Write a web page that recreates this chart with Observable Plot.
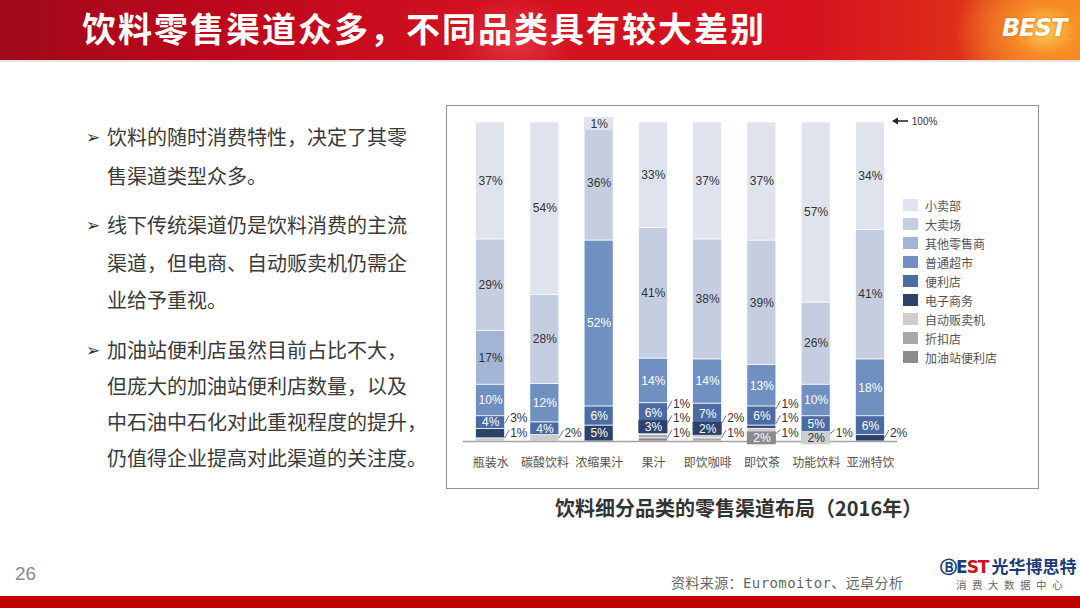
<!DOCTYPE html>
<html><head><meta charset="utf-8">
<script src="https://cdn.jsdelivr.net/npm/d3@7"></script>
<script src="https://cdn.jsdelivr.net/npm/@observablehq/plot@0.6"></script>
<style>
html,body{margin:0;padding:0;width:1080px;height:608px;overflow:hidden;background:#fff;font-family:"Noto Sans CJK SC","Noto Sans",sans-serif;}
#page{position:relative;width:1080px;height:608px;}
#header{position:absolute;left:0;top:0;width:1080px;height:60px;
 background:
  radial-gradient(ellipse 90px 70px at 1045px 30px, rgba(255,214,90,0.95) 0%, rgba(250,150,40,0.8) 35%, rgba(235,70,20,0) 100%),
  radial-gradient(ellipse 60px 45px at 515px 40px, rgba(240,80,90,0.55) 0%, rgba(240,80,90,0) 100%),
  linear-gradient(90deg,#a00a1a 0%,#bd071c 20%,#d21120 45%,#d6121f 75%,#dd2c1a 88%,#ef7a22 100%);}
#hline{position:absolute;left:0;top:60px;width:1080px;height:2px;background:#e9e3e3;}
#title{position:absolute;left:82px;top:10px;line-height:36px;color:#fff;font-size:34px;font-weight:bold;letter-spacing:2px;white-space:nowrap;}
#hlogo{position:absolute;left:1002px;top:14px;color:#fff;font-family:"DejaVu Sans",sans-serif;font-weight:bold;font-style:italic;font-size:24px;letter-spacing:-1px;text-shadow:0 0 3px #e07010;}
.para{position:absolute;left:107px;color:#3a3a3a;font-size:20px;white-space:nowrap;}
.arrow{position:absolute;left:86px;color:#333;font-family:"DejaVu Sans",sans-serif;font-size:17px;line-height:20px;}
#box{position:absolute;left:446px;top:105px;width:593px;height:384px;box-sizing:border-box;border:1.5px solid #929292;}
#chart{position:absolute;left:447px;top:106px;}
#legend{position:absolute;left:903px;top:196px;}
.lrow{position:absolute;left:0;height:19px;width:120px;}
.lsw{position:absolute;left:0;top:3px;width:15px;height:12px;}
.ltx{position:absolute;left:22px;top:0;line-height:19px;font-size:12px;color:#555;white-space:nowrap;}
#hundred{position:absolute;left:891px;top:116px;font-family:"Liberation Sans",Arial,sans-serif;font-size:10px;color:#333;white-space:nowrap;}
#caption{position:absolute;left:555px;top:494px;font-size:20px;font-weight:bold;color:#333;white-space:nowrap;line-height:28px;}
#pagenum{position:absolute;left:15px;top:563px;font-family:"Liberation Sans",Arial,sans-serif;font-size:19px;color:#8a8a8a;}
#source{position:absolute;left:671px;top:572px;font-family:"DejaVu Sans Mono","Noto Sans CJK SC",monospace;font-size:14px;color:#666;letter-spacing:0.4px;white-space:nowrap;}
#blogo{position:absolute;left:940px;top:553px;white-space:nowrap;}
#blogo .b1{font-family:"DejaVu Sans",sans-serif;font-weight:bold;font-size:17px;color:#1d3a78;letter-spacing:-1px;}
#blogo .b2{font-family:"DejaVu Sans",sans-serif;font-weight:bold;font-size:17px;color:#d0101a;letter-spacing:-1px;}
#blogo .b3{font-weight:bold;font-size:17px;color:#1d3a78;margin-left:3px;}
#bsub{position:absolute;left:956px;top:577px;font-size:10.5px;color:#666;letter-spacing:5.5px;white-space:nowrap;}
#footer{position:absolute;left:0;top:596px;width:1080px;height:12px;background:#c10000;}
</style></head>
<body><div id="page">
<div id="header"></div><div id="hline"></div>
<div id="title">饮料零售渠道众多，不同品类具有较大差别</div>
<div id="hlogo">BEST</div>

<div class="arrow" style="top:127px">➢</div>
<div class="para" style="top:117px;line-height:39px">饮料的随时消费特性，决定了其零<br>售渠道类型众多。</div>
<div class="arrow" style="top:215px">➢</div>
<div class="para" style="top:206px;line-height:37.5px">线下传统渠道仍是饮料消费的主流<br>渠道，但电商、自动贩卖机仍需企<br>业给予重视。</div>
<div class="arrow" style="top:340px">➢</div>
<div class="para" style="top:332px;line-height:36px">加油站便利店虽然目前占比不大，<br>但庞大的加油站便利店数量，以及<br>中石油中石化对此重视程度的提升，<br>仍值得企业提高对此渠道的关注度。</div>

<div id="box"></div>
<div id="chart"></div>
<div id="legend"></div>
<div id="hundred"><svg width="18" height="10" style="vertical-align:-1px"><path d="M1,5 L7,1.5 L7,4.2 L17,4.2 L17,5.8 L7,5.8 L7,8.5 Z" fill="#222"/></svg> 100%</div>
<div id="caption">饮料细分品类的零售渠道布局（2016年）</div>

<div id="pagenum">26</div>
<div id="source">资料来源：Euromoitor、远卓分析</div>
<div id="blogo"><span class="b1">Ⓑ</span><span class="b1">E</span><span class="b2">ST</span><span class="b3">光华博思特</span></div>
<div id="bsub">消费大数据中心</div>
<div id="footer"></div>
</div>
<script>
// ---- data ----
const categories = ["瓶装水","碳酸饮料","浓缩果汁","果汁","即饮咖啡","即饮茶","功能饮料","亚洲特饮"];
const seriesNames = ["小卖部","大卖场","其他零售商","普通超市","便利店","电子商务","自动贩卖机","折扣店","加油站便利店"];
const smallShopValues   = [37, 54,  1, 33, 37, 37, 57, 34];
const hypermarketValues = [29, 28, 36, 41, 38, 39, 26, 41];
const otherRetailValues = [17,  0,  0,  0,  0,  0,  0,  0];
const supermarketValues = [10, 12, 52, 14, 14, 13, 10, 18];
const convenienceValues = [ 4,  4,  6,  6,  7,  6,  5,  6];
const ecommerceValues   = [ 3,  0,  5,  3,  2,  1,  1,  2];
const vendingValues     = [ 1,  2,  0,  1,  2,  1,  2,  0];
const discountValues    = [ 0,  0,  0,  1,  1,  1,  0,  0];
const gasStationValues  = [ 0,  0,  0,  1,  0,  2,  0,  0];
const seriesColors = ["#dfe3ed","#c5cee1","#a3b5d4","#7090c2","#4b6ca3","#2c4269","#cecece","#a8a8a8","#8b8b8b"];

// ---- label placement (layout) ----
const outsideLabels = {
  "瓶装水": ["自动贩卖机","电子商务"],
  "碳酸饮料": ["自动贩卖机"],
  "果汁": ["加油站便利店","折扣店","自动贩卖机"],
  "即饮咖啡": ["折扣店","自动贩卖机"],
  "即饮茶": ["折扣店","自动贩卖机","电子商务"],
  "功能饮料": ["电子商务"],
  "亚洲特饮": ["电子商务"]
};
const boxedLabels = {
  "浓缩果汁": ["小卖部"],
  "果汁": ["电子商务"],
  "即饮咖啡": ["电子商务"],
  "即饮茶": ["加油站便利店"],
  "功能饮料": ["自动贩卖机"]
};
const whiteTextSeries = ["普通超市","便利店","电子商务","加油站便利店"];

// ---- build table ----
const valuesBySeries = [smallShopValues, hypermarketValues, otherRetailValues, supermarketValues,
  convenienceValues, ecommerceValues, vendingValues, discountValues, gasStationValues];
const stackOrder = seriesNames.slice().reverse(); // bottom -> top
const segments = [];
categories.forEach((cat, i) => {
  const total = d3.sum(valuesBySeries, v => v[i]);
  let cum = 0, outRank = 0;
  stackOrder.forEach(s => {
    const v = valuesBySeries[seriesNames.indexOf(s)][i];
    if (v > 0) {
      const outside = (outsideLabels[cat] || []).includes(s);
      segments.push({cat, i, series: s, value: v, label: v + "%",
        y1: cum / total, y2: (cum + v) / total, mid: (cum + v / 2) / total,
        outside, outRank: outside ? outRank++ : -1,
        boxed: (boxedLabels[cat] || []).includes(s)});
      cum += v;
    }
  });
});

const W = 590, H = 382, ML = 16, MR = 140, MT = 16, MB = 47;
const STEP = (W - ML - MR) / 8;      // px per category
const PH = H - MT - MB;              // px per 100%
const HW = 14.5 / STEP;
const pxY = p => p / PH;
const pxX = p => p / STEP;

const inside = segments.filter(d => !d.outside);
const outside = segments.filter(d => d.outside).map(d => {
  const labelH = 8.5 + 14.5 * d.outRank;
  return {...d, ly: pxY(labelH),
    ly1: pxY(Math.max(d.mid * PH, labelH - 5)), ly2: pxY(labelH + 3)};
});
const font = "Liberation Sans, Arial, sans-serif";

const plot = Plot.plot({
  width: W, height: H, marginLeft: ML, marginRight: MR, marginTop: MT, marginBottom: MB,
  style: {fontSize: "12px", fontFamily: "Noto Sans CJK SC, sans-serif", color: "#555", background: "transparent"},
  x: {type: "linear", domain: [-0.5, 7.5], ticks: categories.map((_, i) => i),
      tickFormat: i => categories[i], tickSize: 0, tickPadding: 17, label: null},
  y: {domain: [0, 1], axis: null},
  color: {domain: seriesNames, range: seriesColors},
  marks: [
    Plot.rect(segments, {x1: d => d.i - HW, x2: d => d.i + HW, y1: "y1", y2: "y2",
      fill: "series", stroke: "#fff", strokeWidth: 0.7}),
    Plot.ruleY([0], {stroke: "#a3a3a3", strokeWidth: 1.3}),
    Plot.rect(inside.filter(d => d.boxed), {x1: d => d.i - HW, x2: d => d.i + HW,
      y1: d => d.mid - pxY(6.5), y2: d => d.mid + pxY(6.5), fill: "series"}),
    Plot.text(inside.filter(d => !whiteTextSeries.includes(d.series)), {x: "i", y: "mid", text: "label",
      fill: "#333", fontSize: 12, fontFamily: font}),
    Plot.text(inside.filter(d => whiteTextSeries.includes(d.series)), {x: "i", y: "mid", text: "label",
      fill: "#fff", fontSize: 12, fontFamily: font}),
    Plot.link(outside, {x1: d => d.i + pxX(14), y1: "ly1", x2: d => d.i + pxX(18.5), y2: "ly2",
      stroke: "#666", strokeWidth: 0.9}),
    Plot.text(outside, {x: d => d.i + pxX(19.5), y: "ly", text: "label", textAnchor: "start",
      fill: "#333", fontSize: 12, fontFamily: font})
  ]
});
document.getElementById("chart").appendChild(plot);

// legend
const legend = document.getElementById("legend");
seriesNames.forEach((s, k) => {
  const row = document.createElement("div");
  row.className = "lrow";
  row.style.top = (k * 19) + "px";
  row.innerHTML = `<div class="lsw" style="background:${seriesColors[k]}"></div><div class="ltx">${s}</div>`;
  legend.appendChild(row);
});
</script>
</body></html>
